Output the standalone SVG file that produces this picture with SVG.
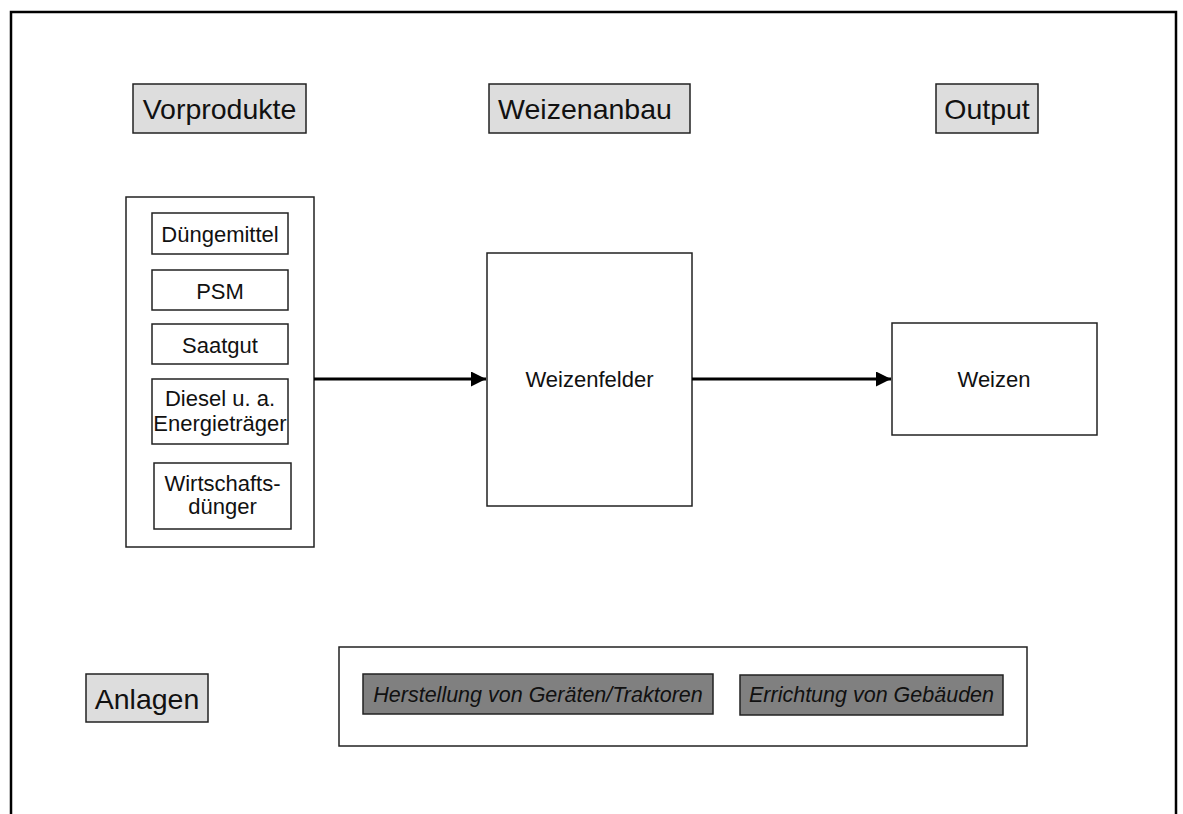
<svg xmlns="http://www.w3.org/2000/svg" width="1183" height="814" viewBox="0 0 1183 814">
<style>
text{font-family:"Liberation Sans",Arial,sans-serif;fill:#111;text-anchor:middle}
.hdr{fill:#dddddd;stroke:#222;stroke-width:1.5}
.box{fill:#fff;stroke:#222;stroke-width:1.5}
.dark{fill:#808080;stroke:#222;stroke-width:1.5}
.h{font-size:28.5px}
.t{font-size:22px}
.i{font-size:21.5px;font-style:italic}
.conn{stroke:#000;stroke-width:3;fill:none}
</style>
<defs>
<marker id="arr" markerWidth="6" markerHeight="6" refX="5" refY="2.5" orient="auto" markerUnits="strokeWidth">
<path d="M0,0 L5,2.5 L0,5 Z" fill="#000"/>
</marker>
</defs>
<rect width="1183" height="814" fill="#fff"/>
<path d="M11,814 V12 H1176 V814" fill="none" stroke="#000" stroke-width="2.5"/>
<g id="hdr-vorprodukte"><rect class="hdr" x="133" y="84" width="173" height="49"/><text class="h" x="219.5" y="119">Vorprodukte</text></g>
<g id="hdr-weizenanbau"><rect class="hdr" x="489" y="84" width="201" height="49"/><text class="h" x="585" y="119">Weizenanbau</text></g>
<g id="hdr-output"><rect class="hdr" x="936" y="84" width="102" height="49"/><text class="h" x="987" y="119">Output</text></g>
<g id="hdr-anlagen"><rect class="hdr" x="86" y="674" width="122" height="48"/><text class="h" x="147" y="709">Anlagen</text></g>
<g id="vorprodukte">
<rect class="box" x="126" y="197" width="188" height="350"/>
<rect class="box" x="152" y="213" width="136" height="41"/><text class="t" x="220" y="242">Düngemittel</text>
<rect class="box" x="152" y="270" width="136" height="40"/><text class="t" x="220" y="299">PSM</text>
<rect class="box" x="152" y="324" width="136" height="40"/><text class="t" x="220" y="353">Saatgut</text>
<rect class="box" x="152" y="379" width="136" height="65"/><text class="t" x="220" y="406">Diesel u. a.</text><text class="t" x="220" y="431">Energieträger</text>
<rect class="box" x="154" y="463" width="137" height="66"/><text class="t" x="222.5" y="491">Wirtschafts-</text><text class="t" x="222.5" y="514">dünger</text>
</g>
<g id="weizenfelder"><rect class="box" x="487" y="253" width="205" height="253"/><text class="t" x="589.5" y="387">Weizenfelder</text></g>
<g id="weizen"><rect class="box" x="892" y="323" width="205" height="112"/><text class="t" x="994" y="387">Weizen</text></g>
<g id="anlagen">
<rect class="box" x="339" y="647" width="688" height="99"/>
<rect class="dark" x="363" y="674" width="350" height="40"/><text class="i" x="538" y="702">Herstellung von Geräten/Traktoren</text>
<rect class="dark" x="740" y="675" width="263" height="40"/><text class="i" x="871.5" y="702">Errichtung von Gebäuden</text>
</g>
<g id="connectors">
<line class="conn" x1="314" y1="379" x2="486" y2="379" marker-end="url(#arr)"/>
<line class="conn" x1="692" y1="379" x2="891" y2="379" marker-end="url(#arr)"/>
</g>
</svg>
